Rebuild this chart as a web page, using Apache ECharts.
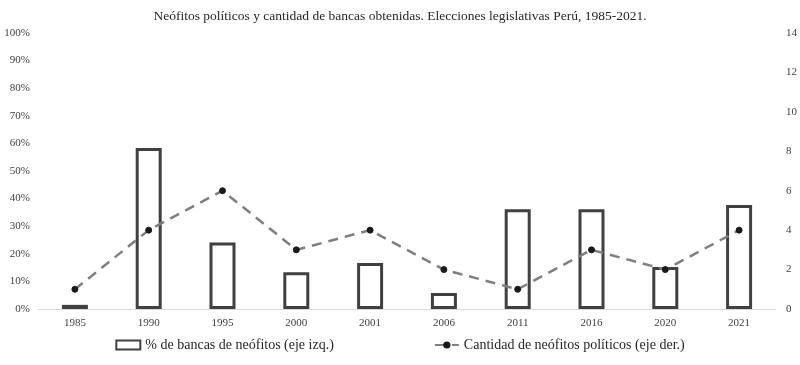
<!DOCTYPE html>
<html><head><meta charset="utf-8">
<script src="https://cdn.jsdelivr.net/npm/echarts@6/dist/echarts.min.js"></script>
<style>html,body{margin:0;padding:0;background:#fff}#c{width:800px;height:365px}</style>
</head><body><div id="c"></div>
<script>
const years = ['1985','1990','1995','2000','2001','2006','2011','2016','2020','2021'];
const pctNeofitos = [1.5, 58.3, 24.1, 13.3, 16.7, 5.8, 36.1, 36.1, 15.2, 37.7];
const cantNeofitos = [1, 4, 6, 3, 4, 2, 1, 3, 2, 4];
const leftTicks = {min: 0, max: 100, interval: 10};
const rightTicks = {min: 0, max: 14, interval: 2};

const FONT = '"Liberation Serif", serif';
const chart = echarts.init(document.getElementById('c'), null, {renderer: 'canvas'});
chart.setOption({
  animation: false,
  backgroundColor: '#fff',
  textStyle: {fontFamily: FONT},
  title: {
    text: 'Neófitos políticos y cantidad de bancas obtenidas. Elecciones legislativas Perú, 1985-2021.',
    left: 'center', top: 4,
    textStyle: {fontFamily: FONT, fontSize: 13.5, fontWeight: 'normal', color: '#262626'}
  },
  grid: {left: 38, right: 22, top: 33, bottom: 56, containLabel: false},
  legend: {
    bottom: 8, left: 'center', itemGap: 100, itemWidth: 24, itemHeight: 9,
    textStyle: {fontFamily: FONT, fontSize: 14, color: '#262626'},
    data: [
      {name: '% de bancas de neófitos (eje izq.)', icon: 'rect'},
      {name: 'Cantidad de neófitos políticos (eje der.)'}
    ]
  },
  xAxis: {
    type: 'category', data: years,
    axisLine: {lineStyle: {color: '#d9d9d9', width: 1}},
    axisTick: {show: false},
    axisLabel: {fontFamily: FONT, fontSize: 11, color: '#404040', margin: 9}
  },
  yAxis: [
    {type: 'value', min: leftTicks.min, max: leftTicks.max, interval: leftTicks.interval,
     splitLine: {show: false}, axisLine: {show: false}, axisTick: {show: false},
     axisLabel: {formatter: '{value}%', fontFamily: FONT, fontSize: 11, color: '#404040', margin: 8}},
    {type: 'value', min: rightTicks.min, max: rightTicks.max, interval: rightTicks.interval,
     splitLine: {show: false}, axisLine: {show: false}, axisTick: {show: false},
     axisLabel: {fontFamily: FONT, fontSize: 11, color: '#404040', margin: 10, align: 'left'}}
  ],
  series: [
    {name: '% de bancas de neófitos (eje izq.)', type: 'bar', yAxisIndex: 0,
     data: pctNeofitos, barWidth: 26,
     itemStyle: {color: '#ffffff', borderColor: '#404040', borderWidth: 3}},
    {name: 'Cantidad de neófitos políticos (eje der.)', type: 'line', yAxisIndex: 1,
     data: cantNeofitos, symbol: 'circle', symbolSize: 6,
     lineStyle: {color: '#7f7f7f', width: 2.5, type: [10, 7]},
     itemStyle: {color: '#1a1a1a', borderColor: '#1a1a1a'}}
  ]
});
</script></body></html>
